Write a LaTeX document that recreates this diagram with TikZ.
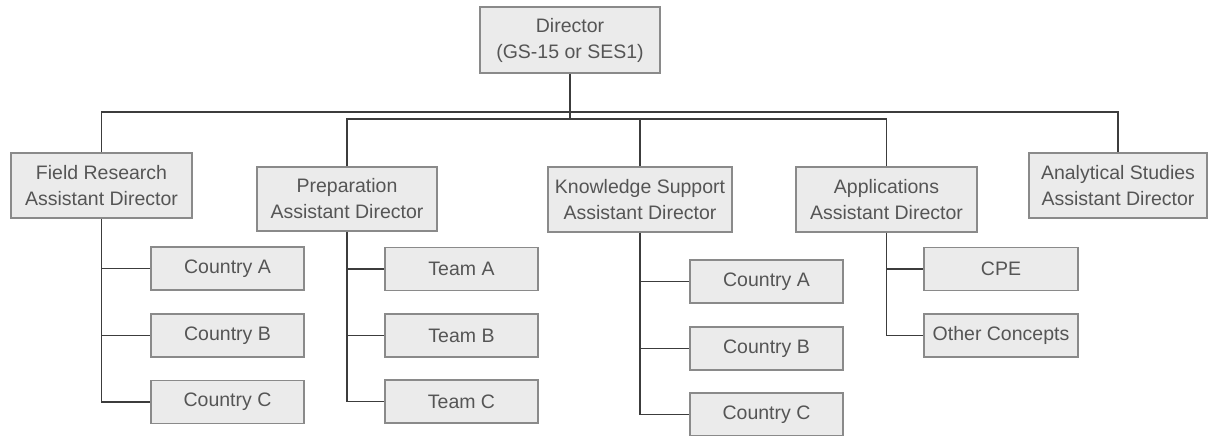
\documentclass[tikz,border=0pt]{standalone}
\usepackage{fontspec}
\setmainfont{Liberation Sans}
\definecolor{boxfill}{HTML}{EBEBEB}
\definecolor{boxline}{HTML}{8A8A8A}
\definecolor{txt}{HTML}{555555}
\definecolor{conncol}{HTML}{3C3C3C}
\begin{document}
\begin{tikzpicture}[x=1pt,y=1pt,
  box/.style={draw=boxline, line width=1.4pt, fill=boxfill, text=txt, inner sep=0pt,
    align=center, font=\fontsize{19.5}{26}\selectfont},
  big/.style={box, minimum width=181pt, minimum height=65pt},
  small/.style={box, minimum width=153pt, minimum height=43pt},
  conn/.style={draw=conncol, line width=1.9pt}]
\useasboundingbox (0,0) rectangle (1208,-436);
\fill[white] (0,0) rectangle (1208,-436);
% top
\node[big, minimum width=180pt, minimum height=66pt] (dir) at (570,-40) {Director\\(GS-15 or SES1)};
% assistant directors
\node[big] (fr) at (101.5,-185.5) {Field Research\\Assistant Director};
\node[big, minimum width=180pt, minimum height=64pt] (pr) at (347,-199) {Preparation\\Assistant Director};
\node[big, minimum width=184pt] (ks) at (640,-199.5) {Knowledge Support\\Assistant Director};
\node[big] (ap) at (886.5,-199.5) {Applications\\Assistant Director};
\node[big, minimum width=178pt] (an) at (1118,-185.5) {Analytical Studies\\Assistant Director};
% children
\node[small] (fra) at (227.5,-268.5) {Country A};
\node[small] (frb) at (227.5,-335.5) {Country B};
\node[small] (frc) at (227.5,-402) {Country C};
\node[small] (pra) at (461.5,-269) {Team A};
\node[small] (prb) at (461.5,-335.5) {Team B};
\node[small] (prc) at (461.5,-401.5) {Team C};
\node[small] (ksa) at (766.5,-281.5) {Country A};
\node[small] (ksb) at (766.5,-348.5) {Country B};
\node[small] (ksc) at (766.5,-414.5) {Country C};
\node[small, minimum width=154pt] (apa) at (1001,-269) {CPE};
\node[small, minimum width=154pt] (apb) at (1001,-335.5) {Other Concepts};
% buses
\coordinate (b1) at (0,-112);
\coordinate (b2) at (0,-119);
\draw[conn] (fr.north) -- (fr.north |- b1) -- (an.north |- b1) -- (an.north);
\draw[conn] (pr.north) -- (pr.north |- b2) -- (ap.north |- b2) -- (ap.north);
\draw[conn] (ks.north) -- (ks.north |- b2);
\draw[conn] (dir.south) -- (dir.south |- b2);
% child connectors
\draw[conn] (fr.south) -- (fr.south |- frc.west) -- (frc.west);
\draw[conn] (fr.south |- fra.west) -- (fra.west);
\draw[conn] (fr.south |- frb.west) -- (frb.west);
\draw[conn] (pr.south) -- (pr.south |- prc.west) -- (prc.west);
\draw[conn] (pr.south |- pra.west) -- (pra.west);
\draw[conn] (pr.south |- prb.west) -- (prb.west);
\draw[conn] (ks.south) -- (ks.south |- ksc.west) -- (ksc.west);
\draw[conn] (ks.south |- ksa.west) -- (ksa.west);
\draw[conn] (ks.south |- ksb.west) -- (ksb.west);
\draw[conn] (ap.south) -- (ap.south |- apb.west) -- (apb.west);
\draw[conn] (ap.south |- apa.west) -- (apa.west);
\end{tikzpicture}
\end{document}
